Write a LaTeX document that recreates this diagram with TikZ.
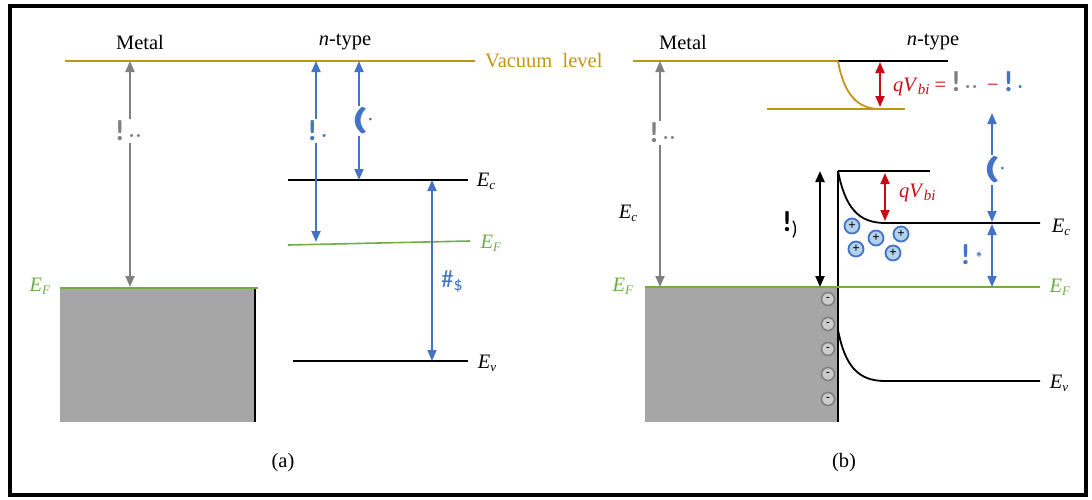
\documentclass[tikz,border=0pt]{standalone}
\usepackage{fontspec}
\usepackage{graphicx}
\setmainfont{Liberation Serif}
\newfontfamily\glyphf{Carlito}
\newfontfamily\symf{DejaVu Sans}
\usetikzlibrary{arrows.meta}
\definecolor{vac}{RGB}{194,150,20}
\definecolor{bl}{RGB}{68,114,196}
\definecolor{gr}{RGB}{112,173,71}
\definecolor{gy}{RGB}{128,128,128}
\definecolor{metal}{RGB}{166,166,166}
\definecolor{rd}{RGB}{200,10,20}
\definecolor{plusfill}{RGB}{180,210,238}
\newcommand{\fs}[1]{\fontsize{#1}{#1}\selectfont}
\newcommand{\phim}{{\glyphf\bfseries\fs{29}!\,{\fs{16}·\,·}}}
\newcommand{\phis}{{\glyphf\bfseries\fs{29}!\,{\fs{16}·}}}
\newcommand{\chisym}{{\glyphf\bfseries\fs{30}\scalebox{1.8}[1]{(}{\fs{14}\raisebox{6pt}{·}}}}
\newcommand{\egsym}{{\glyphf\fs{25}\#{\fs{18}\raisebox{-3pt}{\$}}}}
\newcommand{\phib}{{\glyphf\bfseries\fs{29}!{\fs{20}\raisebox{-4pt}{\mdseries )}}}}
\newcommand{\phin}{{\glyphf\bfseries\fs{29}!\,{\fs{16}\raisebox{1pt}{*}}}}
\newcommand{\En}[1]{\textit{E}{\fs{13}\raisebox{-3pt}{\textit{#1}}}}
\tikzset{
  x=1pt, y=-1pt,
  lvl/.style={line width=1.8pt},
  dbl/.style={line width=1.8pt, {Triangle[length=11pt,width=9pt]}-{Triangle[length=11pt,width=9pt]}},
  txt/.style={font=\fs{20.5}, inner sep=1pt},
  lab/.style={inner sep=2pt},
  minusc/.style={circle, draw=gy, fill=black!20, line width=1.6pt, minimum size=13pt, inner sep=0pt, font=\fs{11}\bfseries},
  plusc/.style={circle, draw=bl, fill=plusfill, line width=1.8pt, minimum size=15pt, inner sep=0pt, font=\fs{13}\bfseries},
}
\begin{document}
\begin{tikzpicture}
\useasboundingbox (0,0) rectangle (1092,499);
\draw[line width=4pt] (10,6) rectangle (1086,495);

% ---------------- panel (a) ----------------
\node[txt] (metalA) at (140,42) {Metal};
\node[txt] (ntA) at (345,42) {\textit{n}-type};
\coordinate (vacAl) at (65,61); \coordinate (vacAr) at (475,61);
\draw[lvl, vac] (vacAl) -- (vacAr);
\node[txt, text=vac, anchor=west] (vacLab) at (484,61) {Vacuum\ \ level};

\fill[metal] (60,288) rectangle (255,422);
\coordinate (blkAt) at (255,288); \coordinate (blkAb) at (255,422);
\draw[lvl] (blkAt) -- (blkAb);
\coordinate (efAl) at (60,288); \coordinate (efAr) at (258,288);
\draw[line width=1.6pt, gr] (efAl) -- (efAr);
\node[txt, text=gr] (efAlab) at (40,286) {\En{F}};

\coordinate (phimAt) at (130,61); \coordinate (phimAb) at (130,287);
\draw[dbl, gy] (phimAt) -- (phimAb);
\node[lab, text=gy, fill=white] (phimA) at (128,131) {\phim};

\coordinate (ecAl) at (288,180); \coordinate (ecAr) at (468,180);
\draw[lvl] (ecAl) -- (ecAr);
\node[txt] (ecAlab) at (486,181) {\En{c}};
\coordinate (efBl) at (288,245); \coordinate (efBr) at (470,241);
\draw[line width=1.6pt, gr] (efBl) -- (efBr);
\node[txt, text=gr] (efBlab) at (491,243) {\En{F}};
\coordinate (evAl) at (293,361); \coordinate (evAr) at (468,361);
\draw[lvl] (evAl) -- (evAr);
\node[txt] (evAlab) at (487,363) {\En{v}};

\coordinate (phisAt) at (316,61); \coordinate (phisAb) at (316,242);
\draw[dbl, bl] (phisAt) -- (phisAb);
\node[lab, text=bl, fill=white] (phisA) at (317,131) {\phis};
\coordinate (chiAt) at (359,61); \coordinate (chiAb) at (359,180);
\draw[dbl, bl] (chiAt) -- (chiAb);
\node[lab, text=bl, fill=white] (chiA) at (362,121) {\chisym};
\coordinate (egAt) at (432,180); \coordinate (egAb) at (432,361);
\draw[dbl, bl] (egAt) -- (egAb);
\node[text=bl, inner sep=1pt] (egA) at (452,282) {\egsym};

\node[txt] (capA) at (283,463) {(a)};

% ---------------- panel (b) ----------------
\node[txt] (metalB) at (683,42) {Metal};
\node[txt] (ntB) at (933,42) {\textit{n}-type};
\coordinate (vacBl) at (633,61); \coordinate (iface) at (838,61);
\coordinate (vacBr) at (948,61);
\draw[lvl, vac] (vacBl) -- (iface);
\draw[lvl] (iface) -- (vacBr);
\coordinate (vacLowL) at (767,109); \coordinate (vacLowR) at (905,109);
\draw[lvl, vac] (iface) .. controls (844,95) and (858,109) .. (880,109);
\draw[lvl, vac] (vacLowL) -- (vacLowR);
\coordinate (qvAt) at (880,62); \coordinate (qvAb) at (880,107);
\draw[dbl, rd] (qvAt) -- (qvAb);
\node[anchor=west, inner sep=0pt] (qvLab) at (893,84) {\fs{20.5}\color{rd}\textit{qV}{\fs{15}\raisebox{-3pt}{\textit{bi}}}\ =\ \textcolor{gy}{\phim}\ \ −\ \textcolor{bl}{\phis}};

\fill[metal] (645,287) rectangle (838,422);
\coordinate (ifTop) at (838,171); \coordinate (ifBot) at (838,422);
\draw[lvl] (ifTop) -- (ifBot);
\coordinate (topR) at (930,171);
\draw[lvl] (ifTop) -- (topR);
\coordinate (ecBr) at (1040,223);
\draw[lvl] (ifTop) .. controls (845,207) and (858,223) .. (885,223) -- (ecBr);
\node[txt] (ecBlab) at (1061,227) {\En{c}};
\coordinate (evStart) at (838,330); \coordinate (evBr) at (1040,381);
\draw[lvl] (evStart) .. controls (845,366) and (858,381) .. (885,381) -- (evBr);
\node[txt] (evBlab) at (1059,383) {\En{v}};
\coordinate (efCl) at (645,287); \coordinate (efCr) at (1040,287);
\draw[line width=1.6pt, gr] (efCl) -- (efCr);
\node[txt, text=gr] (efClab) at (623,286) {\En{F}};
\node[txt, text=gr] (efCrlab) at (1060,287) {\En{F}};
\node[txt] (ecMlab) at (628,213) {\En{c}};

\coordinate (phimBt) at (660,61); \coordinate (phimBb) at (660,287);
\draw[dbl, gy] (phimBt) -- (phimBb);
\node[lab, text=gy, fill=white] (phimB) at (662,133) {\phim};

\coordinate (phibT) at (820,171); \coordinate (phibB) at (820,287);
\draw[dbl, black, line width=2.2pt] (phibT) -- (phibB);
\node[inner sep=1pt] (phibLab) at (790,225) {\phib};

\coordinate (qv2T) at (885,173); \coordinate (qv2B) at (885,221);
\draw[dbl, rd] (qv2T) -- (qv2B);
\node[anchor=west, inner sep=0pt, text=rd] (qv2Lab) at (899,193) {\fs{20.5}\textit{qV}{\fs{15}\raisebox{-3pt}{\textit{bi}}}};

\coordinate (chiBt) at (992,113); \coordinate (chiBb) at (992,222);
\draw[dbl, bl] (chiBt) -- (chiBb);
\node[lab, text=bl, fill=white] (chiB) at (994,170) {\chisym};
\coordinate (phinT) at (992,224); \coordinate (phinB) at (992,287);
\draw[dbl, bl] (phinT) -- (phinB);
\node[text=bl, inner sep=1pt] (phinLab) at (972,255) {\phin};

\foreach \yy [count=\i] in {299,324,349,374,399}
  \node[minusc] (m\i) at (828,\yy) {-};
\node[plusc] (p1) at (852,226) {+};
\node[plusc] (p2) at (876,238) {+};
\node[plusc] (p3) at (901,234) {+};
\node[plusc] (p4) at (856,249) {+};
\node[plusc] (p5) at (893,253) {+};

\node[txt] (capB) at (844,463) {(b)};
\end{tikzpicture}
\end{document}
